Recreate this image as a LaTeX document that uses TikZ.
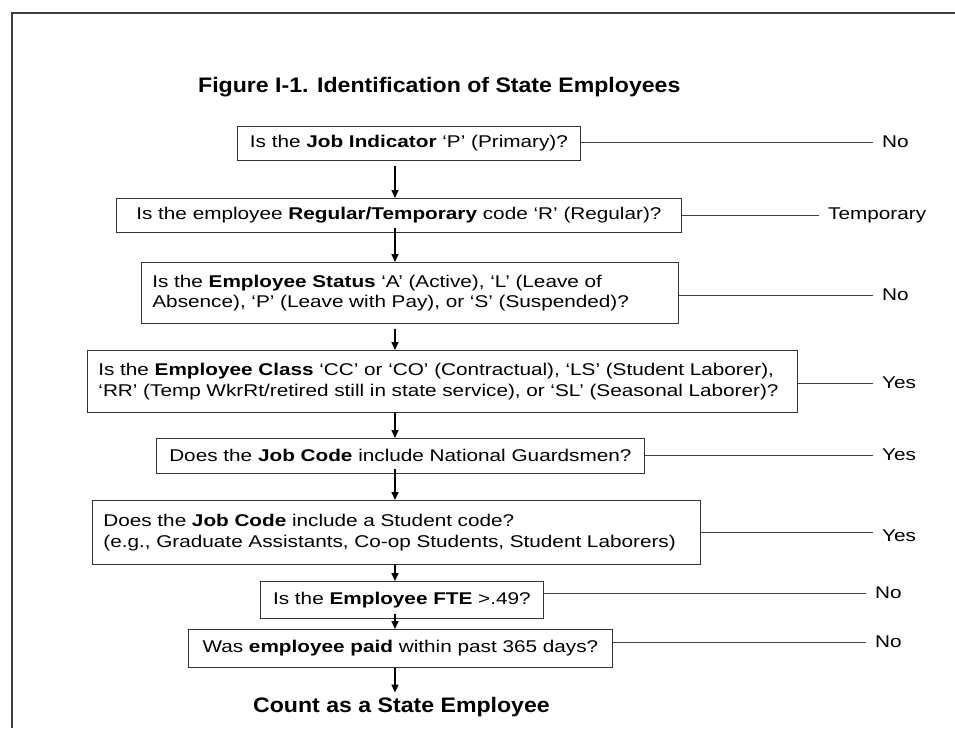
\documentclass[tikz,border=0pt]{standalone}
\usepackage{fontspec}
\setmainfont{Liberation Sans}[FakeStretch=1.22]
\newfontfamily\hdrfont{Liberation Sans}[FakeStretch=1.1]
\usetikzlibrary{arrows.meta}
\begin{document}
\begin{tikzpicture}[x=1pt,y=-1pt,
    qbox/.style={draw=black!80,line width=0.8pt,inner xsep=11pt,inner ysep=0pt,
      anchor=north west,align=left,font=\fontsize{17}{20.5}\selectfont},
    lbl/.style={anchor=west,inner xsep=9pt,inner ysep=0pt,font=\fontsize{17}{20}\selectfont},
    hdr/.style={anchor=base west,inner sep=0pt,font=\hdrfont\fontsize{21}{24}\selectfont\bfseries},
    flow/.style={line width=1.6pt,-{Triangle[length=8pt,width=7pt]}},
    tie/.style={draw=black!75,line width=0.8pt}]
  \useasboundingbox (0,0) rectangle (955,728);
  \draw[black!75,line width=1.5pt] (12,728) -- (12,13) -- (955,13);
  \coordinate (axis) at (395,0);
  \node[hdr] (title) at (198,92) {Figure I-1. Identification of State Employees};
  \node[qbox,minimum width=343pt,minimum height=34pt] (b1) at (237,126)
    {Is the \textbf{Job Indicator} ‘P’ (Primary)?};
  \node[qbox,minimum width=565pt,minimum height=34pt] (b2) at (116,198)
    {Is the employee \textbf{Regular/Temporary} code ‘R’ (Regular)?};
  \node[qbox,text width=515pt,minimum height=61pt] (b3) at (141,262)
    {Is the \textbf{Employee Status} ‘A’ (Active), ‘L’ (Leave of\\
     Absence), ‘P’ (Leave with Pay), or ‘S’ (Suspended)?};
  \node[qbox,text width=688pt,minimum height=62pt] (b4) at (87,350)
    {Is the \textbf{Employee Class} ‘CC’ or ‘CO’ (Contractual), ‘LS’ (Student Laborer),\\
     ‘RR’ (Temp WkrRt/retired still in state service), or ‘SL’ (Seasonal Laborer)?};
  \node[qbox,minimum width=488pt,minimum height=35pt] (b5) at (156,438)
    {Does the \textbf{Job Code} include National Guardsmen?};
  \node[qbox,text width=586pt,minimum height=64pt] (b6) at (92,500)
    {Does the \textbf{Job Code} include a Student code?\\
     (e.g., Graduate Assistants, Co-op Students, Student Laborers)};
  \node[qbox,minimum width=283pt,minimum height=37pt] (b7) at (260,581)
    {Is the \textbf{Employee FTE} >.49?};
  \node[qbox,minimum width=424pt,minimum height=38pt] (b8) at (188,629)
    {Was \textbf{employee paid} within past 365 days?};
  \node[hdr] (count) at (253,712) {Count as a State Employee};
  % answers on the right
  \node[lbl] (l1) at (873,142) {No};
  \node[lbl] (l2) at (819,215) {Temporary};
  \node[lbl] (l3) at (873,295) {No};
  \node[lbl] (l4) at (873,383) {Yes};
  \node[lbl] (l5) at (873,455) {Yes};
  \node[lbl] (l6) at (873,536) {Yes};
  \node[lbl] (l7) at (866,593) {No};
  \node[lbl] (l8) at (866,642) {No};
  \begin{scope}[flow]
    \draw ([yshift=-5pt]b1.south -| axis) to (b2.north -| axis);
    \draw ([yshift=5pt]b2.south -| axis) to (b3.north -| axis);
    \draw ([yshift=-5pt]b3.south -| axis) to (b4.north -| axis);
    \draw (b4.south -| axis) to (b5.north -| axis);
    \draw ([yshift=5pt]b5.south -| axis) to (b6.north -| axis);
    \draw (b6.south -| axis) to (b7.north -| axis);
    \draw ([yshift=5pt]b7.south -| axis) to (b8.north -| axis);
    \draw (b8.south -| axis) to ([yshift=4pt]count.north -| axis);
  \end{scope}
  \begin{scope}[tie]
    \draw (b1.east |- l1.west) to (l1.west);
    \draw (b2.east |- l2.west) to (l2.west);
    \draw (b3.east |- l3.west) to (l3.west);
    \draw (b4.east |- l4.west) to (l4.west);
    \draw (b5.east |- l5.west) to (l5.west);
    \draw ([yshift=4pt]b6.east |- l6.west) to ([yshift=4pt]l6.west);
    \draw (b7.east |- l7.west) to (l7.west);
    \draw (b8.east |- l8.west) to (l8.west);
  \end{scope}
\end{tikzpicture}
\end{document}
